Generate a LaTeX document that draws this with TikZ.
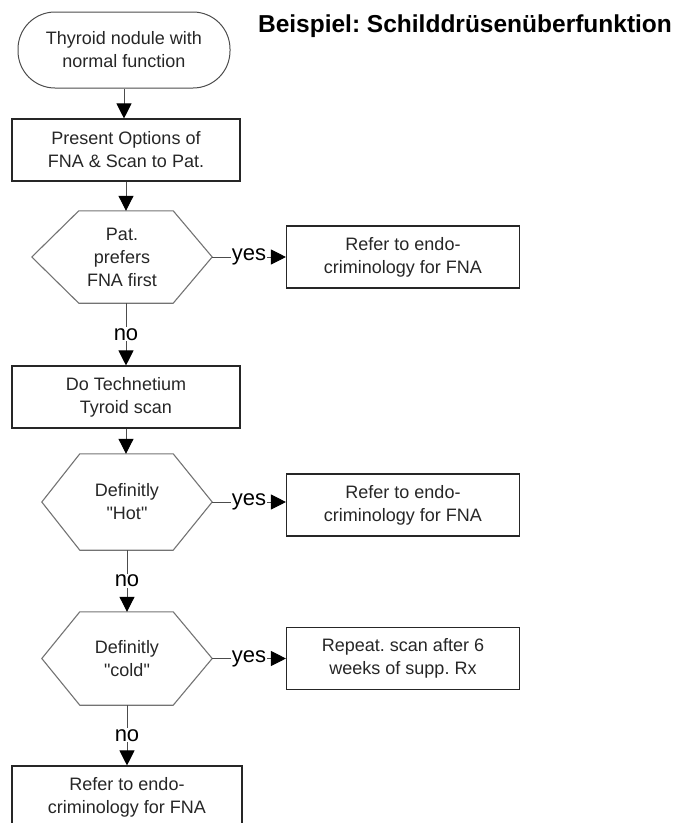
\documentclass[tikz,border=0pt]{standalone}
\usepackage{fontspec}
\setmainfont{Liberation Sans}
\frenchspacing
\usetikzlibrary{arrows.meta, positioning}
\newcommand{\flowfont}{\fontsize{18}{23}\selectfont}
% hexagon round a decision node: #1 name, #2 left point, #3 right point
\newcommand{\hexa}[3]{%
  \draw[hexline] (#1.west) -- ([xshift=#2]#1.north west) -- ([xshift=-#3]#1.north east)
    -- (#1.east) -- ([xshift=-#3]#1.south east) -- ([xshift=#2]#1.south west) -- cycle;}

\begin{document}
\begin{tikzpicture}[x=1pt, y=-1pt,
  term/.style={rectangle,draw=black!70,line width=1pt,rounded corners=37pt, minimum width=212pt,minimum height=76pt,align=center,font=\flowfont,text=black!85},
  proc/.style={rectangle,draw=black!85,line width=1.1pt,minimum width=228pt,minimum height=62pt,align=center,font=\flowfont,text=black!85},
  res/.style={proc, minimum width=233pt},
  dec/.style={rectangle,minimum width=170pt,minimum height=94pt,align=center,font=\flowfont,text=black!85, inner sep=0pt},
  hexline/.style={draw=black!55,line width=1.1pt},
  arr/.style={-{Triangle[length=15pt,width=15pt,color=black]},draw=black!70,line width=1pt},
  lbl/.style={fill=white,inner sep=1pt,font=\fontsize{22}{26}\selectfont,text=black}
]
  \useasboundingbox (0,0) rectangle (676,823);
  \node[font=\fontsize{24.5}{28}\selectfont\bfseries](title) at (465,26) {Beispiel: Schilddrüsenüberfunktion};

  \node[term](t0) at (124,50)   {Thyroid nodule with\\normal function};
  \node[proc](p1) at (126,150)  {Present Options of\\FNA \& Scan to Pat.};
  \node[dec, minimum width=180pt, minimum height=92pt](d1) at (122,257) {Pat.\\prefers\\FNA first};
  \node[res](r1)  at (403,257)  {Refer to endo-\\criminology for FNA};
  \node[proc](p2) at (126,397)  {Do Technetium\\Tyroid scan};
  \node[dec, minimum height=96pt](d2)  at (127,502)  {Definitly\\\textquotedbl Hot\textquotedbl};
  \node[res](r2)  at (403,505)  {Refer to endo-\\criminology for FNA};
  \node[dec, minimum height=93pt](d3)  at (127,658.5)  {Definitly\\\textquotedbl cold\textquotedbl};
  \node[res](r3)  at (403,658.5)  {Repeat. scan after 6\\weeks of supp. Rx};
  \node[proc, minimum width=230pt](p3) at (127,797) {Refer to endo-\\criminology for FNA};

  \hexa{d1}{47pt}{39pt}
  \hexa{d2}{38pt}{39pt}
  \hexa{d3}{38pt}{39pt}

  \draw[arr](t0)--(t0 |- p1.north);
  \draw[arr](p1)--(p1 |- d1.north);
  \draw[arr](d1.east)--node[lbl]{yes}(d1 -| r1.west);
  \draw[arr](d1.south -| p2)--node[lbl]{no}(p2);
  \draw[arr](p2)--(p2 |- d2.north);
  \draw[arr](d2.east)--node[lbl]{yes}(d2 -| r2.west);
  \draw[arr](d2)--node[lbl]{no}(d3);
  \draw[arr](d3.east)--node[lbl]{yes}(r3);
  \draw[arr](d3)--node[lbl]{no}(d3 |- p3.north);
\end{tikzpicture}
\end{document}
